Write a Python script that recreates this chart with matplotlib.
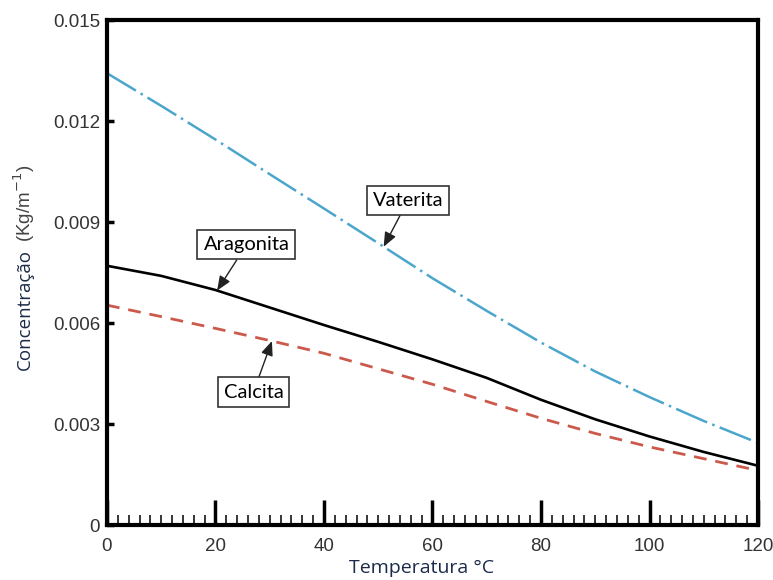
import matplotlib
matplotlib.use("Agg")
import matplotlib.pyplot as plt
import numpy as np

# data (concentration in kg/m^-1, x1e-3)
temperatura = [0, 10, 20, 30, 40, 50, 60, 70, 80, 90, 100, 110, 120]
vaterita = [13.42, 12.45, 11.45, 10.42, 9.40, 8.37, 7.33, 6.36, 5.42, 4.56, 3.80, 3.09, 2.44]
aragonita = [7.70, 7.40, 6.98, 6.46, 5.94, 5.44, 4.92, 4.37, 3.72, 3.14, 2.63, 2.17, 1.76]
calcita = [6.53, 6.19, 5.84, 5.48, 5.10, 4.64, 4.18, 3.67, 3.17, 2.72, 2.32, 1.97, 1.62]

x_ticks = [0, 20, 40, 60, 80, 100, 120]
y_ticks = [0, 0.003, 0.006, 0.009, 0.012, 0.015]
y_tick_labels = ["0", "0.003", "0.006", "0.009", "0.012", "0.015"]

T = np.array(temperatura)
v = np.array(vaterita) * 1e-3
a = np.array(aragonita) * 1e-3
c = np.array(calcita) * 1e-3

fig = plt.figure(figsize=(7.73, 5.80), dpi=100)
ax = fig.add_axes([0.1384, 0.0948, 0.8422, 0.8707])

ax.plot(T, v, color="#4ba6cc", lw=1.8, linestyle=(0, (13.5, 2.2, 1.0, 2.2)))
ax.plot(T, a, color="black", lw=1.9)
ax.plot(T, c, color="#cc5a4c", lw=2.0, linestyle=(0, (4.6, 3.2)))

ax.set_xlim(0, 120)
ax.set_ylim(0, 0.015)

for sp in ax.spines.values():
    sp.set_linewidth(3.0)

ax.set_xticks(x_ticks)
ax.set_xticks(np.arange(0, 121, 2), minor=True)
ax.set_yticks(y_ticks)
ax.set_yticklabels(y_tick_labels)

ax.tick_params(axis="x", which="major", direction="in", length=18, width=2.5,
               pad=9, labelsize=13.5, labelcolor="#333333", labelfontfamily="Liberation Sans")
ax.tick_params(axis="x", which="minor", direction="in", length=7, width=1.1)
ax.tick_params(axis="y", which="major", direction="in", length=5, width=2.5,
               pad=5, labelsize=13.5, labelcolor="#333333", labelfontfamily="Liberation Sans")

# axis titles
fig.text(0.546, 0.012, "Temperatura °C", ha="center", va="baseline",
         fontsize=14, family="Open Sans", color="#1c2b4a")
fig.text(0.032, 0.466, "Concentração", rotation=90, ha="center", va="center",
         fontsize=13.5, family="Open Sans", color="#1c2b4a")
fig.text(0.032, 0.650, "(Kg/m$^{-1}$)", rotation=90, ha="center", va="center",
         fontsize=13.5, family="Liberation Sans", color="#444444")

# labelled arrows
box = dict(boxstyle="square,pad=0.3", fc="white", ec="#333333", lw=1.2)
arrow = dict(arrowstyle="-|>,head_length=0.6,head_width=0.25", color="#222222", lw=1.0,
             shrinkA=0, shrinkB=0)

notes = [("Vaterita", v, 51, 55.5, 0.00965),
         ("Aragonita", a, 20.3, 25.7, 0.00832),
         ("Calcita", c, 30.4, 27.0, 0.00395)]
for name, serie, t_tip, t_txt, y_txt in notes:
    ax.annotate(name, xy=(t_tip, np.interp(t_tip, T, serie)), xytext=(t_txt, y_txt),
                ha="center", va="center", fontsize=14.5, family="Lato", color="black",
                bbox=box, arrowprops=arrow)

fig.savefig("out.png", dpi=100, facecolor="white")
